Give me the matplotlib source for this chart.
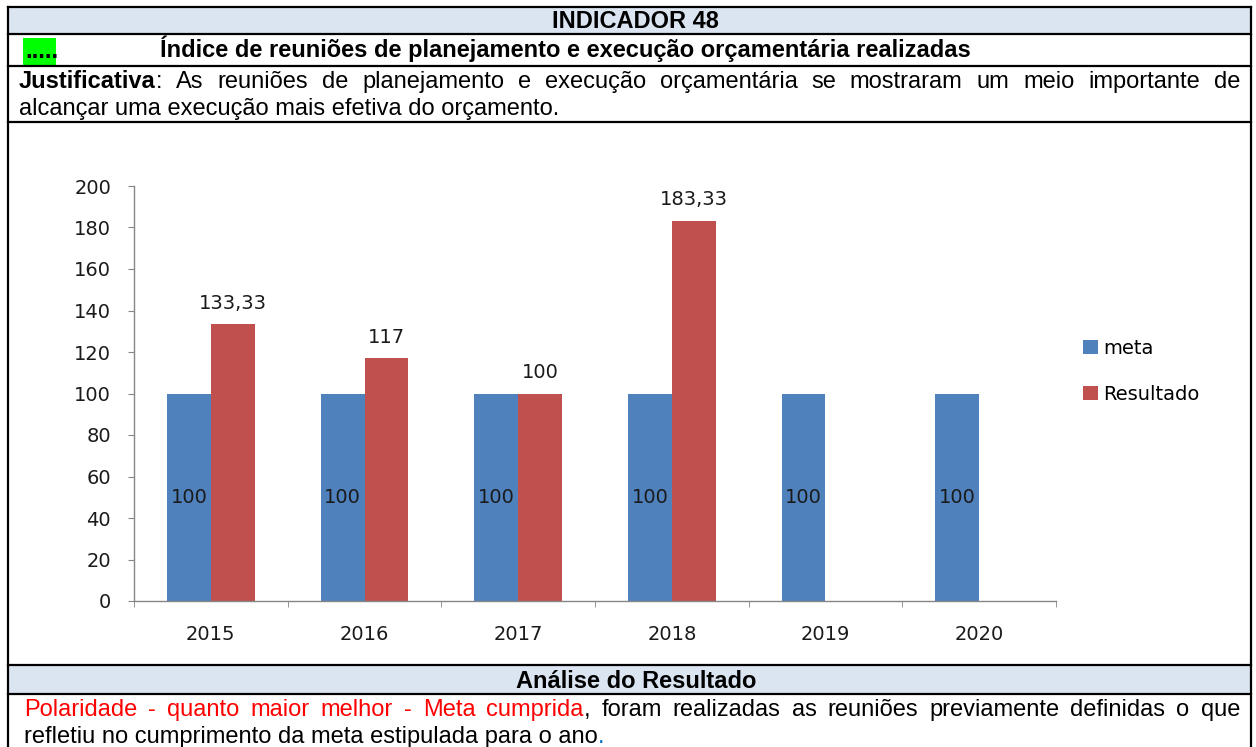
import matplotlib
matplotlib.use('Agg')
import matplotlib.pyplot as plt
import numpy as np
from matplotlib.patches import Rectangle
from matplotlib.lines import Line2D

# chart data
years = ['2015', '2016', '2017', '2018', '2019', '2020']
meta = [100, 100, 100, 100, 100, 100]
resultado = [133.33, 117, 100, 183.33, None, None]
resultado_labels = ['133,33', '117', '100', '183,33', '', '']
series_names = ['meta', 'Resultado']

# table texts
header_text = 'INDICADOR 48'
title_text = 'Índice de reuniões de planejamento e execução orçamentária realizadas'
justif_line1 = 'As reuniões de planejamento e execução orçamentária se mostraram um meio importante de'
justif_line2 = 'alcançar uma execução mais efetiva do orçamento.'
analysis_header = 'Análise do Resultado'
analysis_red = 'Polaridade - quanto maior melhor - Meta cumprida'
analysis_line1 = ', foram realizadas as reuniões previamente definidas o que'
analysis_line2 = 'refletiu no cumprimento da meta estipulada para o ano'

W, H = 1256, 747
BLUE = '#4F81BD'
RED = '#C0504D'
HEAD_BG = '#DBE5F1'
TFONT = ['Liberation Sans', 'DejaVu Sans']
CFONT = ['DejaVu Sans']
TSIZE = 17


def X(px):
    return px / W


def Y(py):
    return 1 - py / H


fig = plt.figure(figsize=(W / 100, H / 100), dpi=100)
renderer = fig.canvas.get_renderer()


def hline(y, x0=8, x1=1251, lw=1.6):
    fig.add_artist(Line2D([X(x0), X(x1)], [Y(y), Y(y)], color='black', lw=lw))


def justify(runs, x0, x1, y):
    # runs: (text, color, weight, glued to previous run)
    words = []
    for txt, col, wt, glue in runs:
        t = fig.text(0, Y(y), txt, color=col, weight=wt, fontsize=TSIZE,
                     family=TFONT, va='baseline', ha='left')
        w = t.get_window_extent(renderer=renderer).width
        if glue and words:
            words[-1].append((t, w))
        else:
            words.append([(t, w)])
    total = sum(w for wd in words for _, w in wd)
    gap = (x1 - x0 - total) / max(len(words) - 1, 1)
    x = x0
    for wd in words:
        for t, w in wd:
            t.set_x(X(x))
            x += w
        x += gap


def plain_runs(text, color='black', weight='normal'):
    return [(w, color, weight, False) for w in text.split()]


# table backgrounds
fig.add_artist(Rectangle((X(8), Y(34)), X(1252) - X(8), Y(7) - Y(34),
                         facecolor=HEAD_BG, edgecolor='none'))
fig.add_artist(Rectangle((X(8), Y(694)), X(1252) - X(8), Y(665) - Y(694),
                         facecolor=HEAD_BG, edgecolor='none'))
fig.add_artist(Rectangle((X(23), Y(65)), X(56) - X(23), Y(38) - Y(65),
                         facecolor='#00FF00', edgecolor='none'))

# table lines
for yy in [7, 34, 66, 122, 665, 694]:
    hline(yy)
fig.add_artist(Line2D([X(8), X(8)], [Y(7), Y(747)], color='black', lw=1.6))
fig.add_artist(Line2D([X(1251), X(1251)], [Y(7), Y(747)], color='black', lw=1.6))

# table texts
fig.text(X(635), Y(28), header_text, fontsize=TSIZE, weight='bold', family=TFONT,
         ha='center', va='baseline')
fig.text(X(25), Y(58), '.....', fontsize=TSIZE, weight='bold', family=TFONT,
         ha='left', va='baseline')
fig.text(X(160), Y(57), title_text, fontsize=TSIZE, weight='bold', family=TFONT,
         ha='left', va='baseline')
justify([('Justificativa', 'black', 'bold', False), (':', 'black', 'normal', True)]
        + plain_runs(justif_line1), 19, 1240, 88)
fig.text(X(19), Y(115), justif_line2, fontsize=TSIZE, family=TFONT,
         ha='left', va='baseline')
fig.text(X(636), Y(688), analysis_header, fontsize=TSIZE, weight='bold', family=TFONT,
         ha='center', va='baseline')
red_runs = plain_runs(analysis_red, color='red')
black_words = analysis_line1.split()
black_runs = [(black_words[0], 'black', 'normal', True)] + plain_runs(' '.join(black_words[1:]))
justify(red_runs + black_runs, 24, 1240, 716)
t2 = fig.text(X(24), Y(743), analysis_line2, fontsize=TSIZE, family=TFONT,
              ha='left', va='baseline')
w2 = t2.get_window_extent(renderer=renderer).width
fig.text(X(24 + w2), Y(743), '.', fontsize=TSIZE, family=TFONT, color='#0070C0',
         ha='left', va='baseline')

# chart
ax = fig.add_axes([X(134), Y(601), X(1056) - X(134), Y(186) - Y(601)])
x = np.arange(len(years))
bw = 0.286
res_vals = [v if v is not None else 0 for v in resultado]
b1 = ax.bar(x - bw / 2, meta, bw, color=BLUE, label=series_names[0])
b2 = ax.bar(x + bw / 2, res_vals, bw, color=RED, label=series_names[1])

for xi, v in zip(x, meta):
    ax.text(xi - bw / 2, v / 2, str(v), ha='center', va='center', fontsize=14,
            color='#1a1a1a', family=CFONT)
for xi, v, lab in zip(x, res_vals, resultado_labels):
    if lab:
        ax.annotate(lab, (xi + bw / 2, v), xytext=(0, 8), textcoords='offset points',
                    ha='center', va='bottom', fontsize=14, color='#1a1a1a', family=CFONT)

ax.set_xlim(-0.5, len(years) - 0.5)
ax.set_ylim(0, 200)
ax.set_yticks(np.arange(0, 201, 20))
ax.set_xticks(x)
ax.set_xticklabels(years)
ax.set_xticks(np.arange(-0.5, len(years)), minor=True)
ax.tick_params(axis='x', which='major', length=0, pad=17, labelsize=14, labelcolor='#1a1a1a')
ax.tick_params(axis='x', which='minor', length=4.5, color='#868686', direction='out')
ax.tick_params(axis='y', length=4, color='#868686', pad=12.5, labelsize=14, labelcolor='#1a1a1a')
for lab in ax.get_xticklabels() + ax.get_yticklabels():
    lab.set_family(CFONT)
for s in ['top', 'right']:
    ax.spines[s].set_visible(False)
for s in ['left', 'bottom']:
    ax.spines[s].set_color('#868686')
    ax.spines[s].set_linewidth(1)
ax.set_facecolor('none')

fig.legend(handles=[b1, b2], labels=series_names, loc='upper left',
           bbox_to_anchor=(X(1083), Y(339)), frameon=False,
           handlelength=0.75, handleheight=0.75, handletextpad=0.3,
           labelspacing=1.37, borderpad=0, borderaxespad=0,
           prop={'family': CFONT, 'size': 14})

fig.savefig('out.png', dpi=100)
